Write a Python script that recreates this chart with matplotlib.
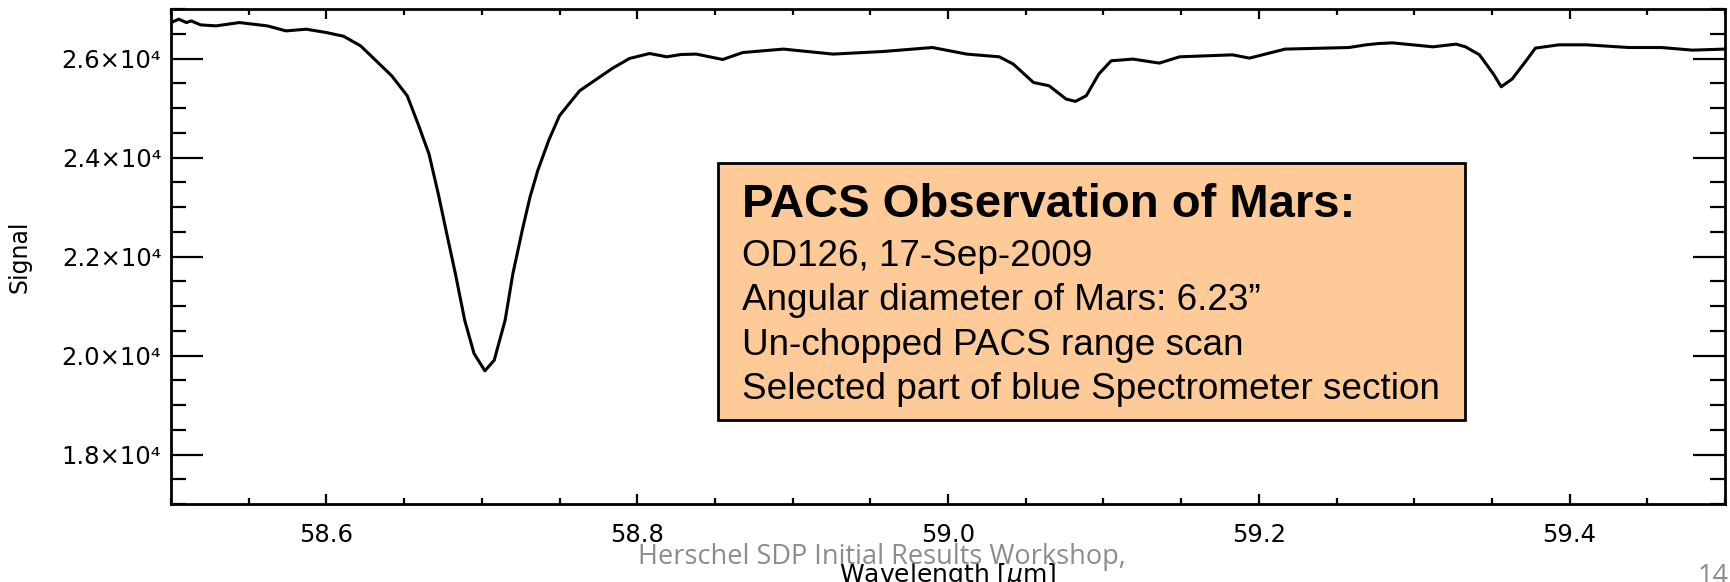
import numpy as np
import matplotlib
matplotlib.use("Agg")
import matplotlib.pyplot as plt
from matplotlib.patches import Rectangle
from matplotlib.ticker import MultipleLocator, FuncFormatter

# Spectrum (wavelength in micron, signal)
wavelength = [58.500, 58.505, 58.510, 58.513, 58.519, 58.529, 58.544, 58.562, 58.574, 58.587,
              58.600, 58.611, 58.622, 58.632, 58.642, 58.652, 58.659, 58.666, 58.672, 58.677,
              58.683, 58.689, 58.695, 58.702, 58.708, 58.715, 58.720, 58.726, 58.731, 58.736,
              58.743, 58.750, 58.763, 58.774, 58.784, 58.795, 58.808, 58.819, 58.828, 58.838,
              58.855, 58.868, 58.894, 58.926, 58.958, 58.990, 59.012, 59.033, 59.042, 59.055,
              59.065, 59.076, 59.082, 59.089, 59.097, 59.105, 59.119, 59.136, 59.149, 59.183,
              59.194, 59.217, 59.258, 59.269, 59.277, 59.286, 59.299, 59.312, 59.327, 59.333,
              59.342, 59.351, 59.356, 59.363, 59.372, 59.378, 59.393, 59.411, 59.438, 59.459,
              59.479, 59.500]
signal = [26726, 26794, 26726, 26760, 26679, 26659, 26726, 26659, 26558, 26592,
          26524, 26450, 26256, 25954, 25651, 25248, 24677, 24073, 23266, 22526,
          21653, 20712, 20040, 19690, 19906, 20712, 21653, 22526, 23198, 23736,
          24341, 24845, 25349, 25585, 25800, 26000, 26101, 26034, 26080, 26089,
          25980, 26121, 26190, 26089, 26141, 26222, 26089, 26034, 25887, 25516,
          25450, 25181, 25133, 25248, 25685, 25954, 25988, 25907, 26034, 26074,
          26008, 26190, 26222, 26276, 26302, 26316, 26276, 26236, 26290, 26236,
          26074, 25685, 25429, 25585, 25954, 26210, 26276, 26276, 26222, 26222,
          26169, 26190]

x_major = [58.6, 58.8, 59.0, 59.2, 59.4]
y_major = [18000, 20000, 22000, 24000, 26000]

box_title = "PACS Observation of Mars:"
box_lines = ["OD126, 17-Sep-2009",
             "Angular diameter of Mars: 6.23\u201d",
             "Un-chopped PACS range scan",
             "Selected part of blue Spectrometer section"]
footer = "Herschel SDP Initial Results Workshop,"
page_no = "14"

W, H = 1731, 582
fig = plt.figure(figsize=(W / 100, H / 100), dpi=100)
ax = fig.add_axes([171 / W, 1 - 504 / H, (1725 - 171) / W, (504 - 9) / H])

ax.plot(wavelength, signal, color="black", lw=2.2)

ax.set_xlim(58.5, 59.5)
ax.set_ylim(17000, 27000)
ax.set_xticks(x_major)
ax.set_yticks(y_major)
ax.xaxis.set_minor_locator(MultipleLocator(0.05))
ax.yaxis.set_minor_locator(MultipleLocator(500))
ax.xaxis.set_major_formatter(FuncFormatter(lambda v, p: f"{v:.1f}"))
ax.yaxis.set_major_formatter(FuncFormatter(lambda v, p: f"{v / 1e4:.1f}\u00d710\u2074"))

for s in ax.spines.values():
    s.set_linewidth(2)
ax.tick_params(axis="both", which="both", direction="in", top=True, right=True,
               width=1.6, labelsize=17.5)
ax.tick_params(axis="x", which="major", length=7, pad=14)
ax.tick_params(axis="x", which="minor", length=4)
ax.tick_params(axis="y", which="major", length=23, pad=7)
ax.tick_params(axis="y", which="minor", length=11)

ax.set_ylabel("Signal", fontsize=17)
ax.yaxis.set_label_coords(-0.09, 0.5)
ax.set_xlabel("Wavelength [$\\mu$m]", fontsize=18, va="top")
ax.xaxis.set_label_coords(0.5, -0.115)

# annotation box
ax.add_patch(Rectangle((0.352, 0.1697), 0.4807, 0.5192, transform=ax.transAxes,
                       facecolor="#fecb98", edgecolor="black", lw=2, zorder=3))
tx = 742 / W
fig.text(tx, 1 - 217 / H, box_title, fontsize=34, fontweight="bold",
         family="Liberation Sans", va="baseline", zorder=4)
for i, line in enumerate(box_lines):
    fig.text(tx, 1 - (266 + 44.3 * i) / H, line, fontsize=26.6,
             family="Liberation Sans", va="baseline", zorder=4)

fig.text(638 / W, 1 - 564 / H, footer, fontsize=19.5, color="#8c8c8c",
         family="Open Sans", va="baseline")
fig.text(1698 / W, 1 - 584 / H, page_no, fontsize=19.5, color="#8c8c8c",
         family="Open Sans", va="baseline")

fig.savefig("out.png", dpi=100)
